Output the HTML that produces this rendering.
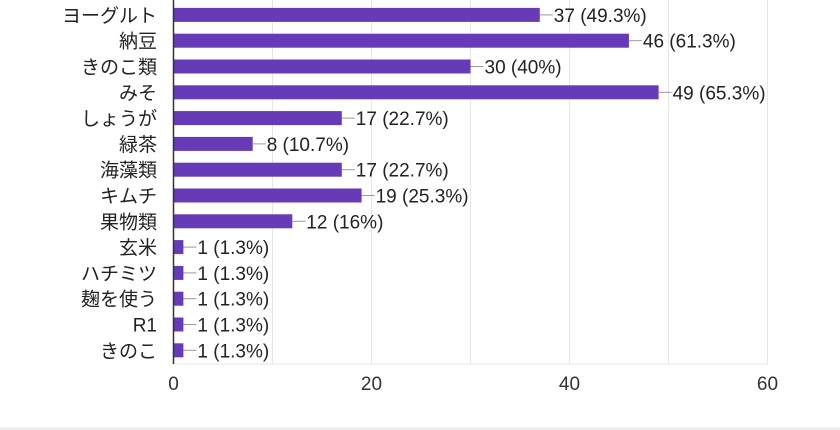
<!DOCTYPE html>
<html><head><meta charset="utf-8"><style>
body{margin:0;background:#fff;}
svg{display:block;font-family:"Liberation Sans","Noto Sans CJK JP",sans-serif;}
</style></head><body>
<svg id="chart" width="840" height="430">
<line x1="0" y1="428.5" x2="840" y2="428.5" stroke="#e8e8ee" stroke-width="2"/>
<g id="grid"></g><g id="bars"></g><g id="labels"></g><g id="ticks"></g>
</svg>
<script>
const categories=["ヨーグルト","納豆","きのこ類","みそ","しょうが","緑茶","海藻類","キムチ","果物類","玄米","ハチミツ","麹を使う","R1","きのこ"];
const counts=[37,46,30,49,17,8,17,19,12,1,1,1,1,1];
const percents=["49.3%","61.3%","40%","65.3%","22.7%","10.7%","22.7%","25.3%","16%","1.3%","1.3%","1.3%","1.3%","1.3%"];
const ticks=[0,10,20,30,40,50,60];
const tickLabels=["0","","20","","40","","60"];
const NS="http://www.w3.org/2000/svg";
const x0=173.5,ppu=9.9,top0=2,pitch=25.8,barH=14,axisBottom=364;
const xs=v=>x0+v*ppu;
const yc=i=>top0+pitch*(i+0.5);
function mk(tag,attrs,parent){const e=document.createElementNS(NS,tag);for(const k in attrs)e.setAttribute(k,attrs[k]);document.getElementById(parent).appendChild(e);return e;}
ticks.forEach((t,i)=>{
 if(t>0){const g=mk('line',{x1:xs(t),x2:xs(t),y1:0,y2:axisBottom,stroke:'#e6e6e6','stroke-width':1},'grid');
 
 }
 if(tickLabels[i]){const tl=mk('text',{x:xs(t),y:390,'text-anchor':'middle','font-size':19,fill:'#333'},'ticks');tl.textContent=tickLabels[i];
 
 }
});
const base=mk('line',{x1:x0,x2:768,y1:axisBottom,y2:axisBottom,stroke:'#e6e6e6'},'grid');


const ax=mk('line',{x1:x0,x2:x0,y1:0,y2:axisBottom,stroke:'#333','stroke-width':1.5},'ticks');


categories.forEach((c,i)=>{
 const y=yc(i),w=counts[i]*ppu;
 const b=mk('rect',{x:x0,y:y-barH/2,width:w,height:barH,fill:'#673ab7'},'bars');
 
 
 const cl=mk('line',{x1:x0+w,x2:x0+w+13,y1:y,y2:y,stroke:'#999'},'labels');
 
 
 const v=mk('text',{x:x0+w+14,y:y+7,'font-size':19,fill:'#222'},'labels');
 v.textContent=counts[i]+' ('+percents[i]+')';
 
 
 const cat=mk('text',{x:157,y:y+7,'text-anchor':'end','font-size':19,fill:'#222'},'labels');
 cat.textContent=c;
 
 
});
</script>
</body></html>
